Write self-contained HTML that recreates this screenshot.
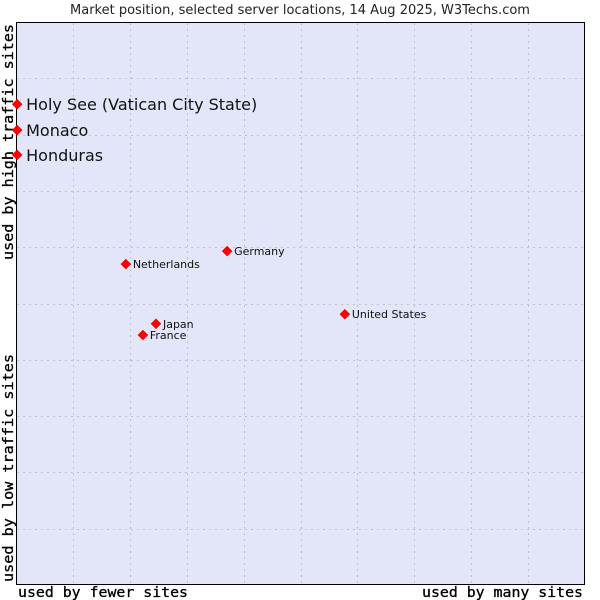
<!DOCTYPE html>
<html><head><meta charset="utf-8"><style>
body{margin:0;background:#fff;}
svg{display:block;font-family:"DejaVu Sans","Liberation Sans",sans-serif;}
.mono{font-family:"DejaVu Sans Mono","Liberation Mono",monospace;}
</style></head><body>
<svg id="chart" width="600" height="600">
<rect x="16.5" y="22.5" width="568" height="562" fill="#e3e5f8" stroke="#000"/>
<g id="grid"></g>
<text x="300" y="14" text-anchor="middle" font-size="13" fill="#222">Market position, selected server locations, 14 Aug 2025, W3Techs.com</text>
<text class="mono" x="18" y="597" font-size="14.5" textLength="170" lengthAdjust="spacingAndGlyphs" stroke="#000" stroke-width="0.3">used by fewer sites</text>
<text class="mono" x="422" y="597" font-size="14.5" textLength="161" lengthAdjust="spacingAndGlyphs" stroke="#000" stroke-width="0.3">used by many sites</text>
<text class="mono" transform="translate(13,582) rotate(-90)" font-size="14.5" textLength="228" lengthAdjust="spacingAndGlyphs" stroke="#000" stroke-width="0.3">used by low traffic sites</text>
<text class="mono" transform="translate(13,260) rotate(-90)" font-size="14.5" textLength="236" lengthAdjust="spacingAndGlyphs" stroke="#000" stroke-width="0.3">used by high traffic sites</text>
<g id="points"></g>
</svg>
<script>
const countries = ["Holy See (Vatican City State)","Monaco","Honduras","Netherlands","Germany","Japan","France","United States"];
const xValues = [0.2,0.2,0.2,19.3,37.1,24.6,22.3,57.8];
const yValues = [85.4,80.8,76.4,57.0,59.3,46.4,44.4,48.1];
const bigLabel = [true,true,true,false,false,false,false,false];
const NS="http://www.w3.org/2000/svg";
const L=16,R=585,T=22,B=585;
const xs=v=>L+(R-L)*v/100, ys=v=>B-(B-T)*v/100;
const grid=document.getElementById('grid');
for(let i=1;i<10;i++){
  const gx=Math.round(xs(i*10))+0.5, gy=Math.round(ys(i*10))+0.5;
  const v=document.createElementNS(NS,'line');
  v.setAttribute('x1',gx);v.setAttribute('x2',gx);v.setAttribute('y1',T+1);v.setAttribute('y2',B);
  v.setAttribute('stroke','#c0c0c8');v.setAttribute('stroke-dasharray','2,4');
  
  
  grid.appendChild(v);
  const h=document.createElementNS(NS,'line');
  h.setAttribute('y1',gy);h.setAttribute('y2',gy);h.setAttribute('x1',L+1);h.setAttribute('x2',R);
  h.setAttribute('stroke','#c0c0c8');h.setAttribute('stroke-dasharray','2,4');
  
  
  grid.appendChild(h);
}
const pts=document.getElementById('points');
countries.forEach((c,i)=>{
  const x=xs(xValues[i]), y=ys(yValues[i]);
  const d=document.createElementNS(NS,'path');
  d.setAttribute('d',`M${x-5},${y} L${x},${y-5} L${x+5},${y} L${x},${y+5} Z`);
  d.setAttribute('fill','#f00');
  d.setAttribute('stroke','#d00');
  d.setAttribute('stroke-width','0.5');
  
  
  pts.appendChild(d);
  const t=document.createElementNS(NS,'text');
  t.setAttribute('x',x+(bigLabel[i]?9:7));
  t.setAttribute('y',y+(bigLabel[i]?6:4));
  t.setAttribute('font-size',bigLabel[i]?16:11);
  t.setAttribute('fill','#111');
  t.textContent=c;
  
  
  pts.appendChild(t);
});
</script>
</body></html>
